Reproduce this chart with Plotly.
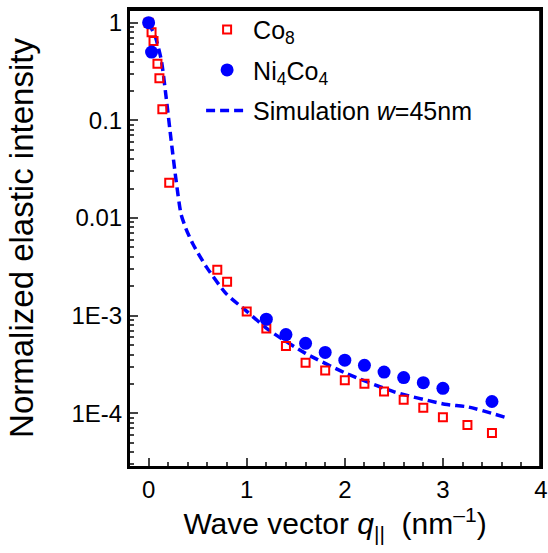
import plotly.graph_objects as go

# Co8 data (red open squares)
co8_q = [0.0, 0.03, 0.05, 0.09, 0.11, 0.14, 0.21, 0.7, 0.8, 1.0, 1.2, 1.4, 1.6, 1.8, 2.0,
         2.2, 2.4, 2.6, 2.8, 3.0, 3.25, 3.5]
co8_i = [1.0, 0.80, 0.65, 0.38, 0.27, 0.13, 0.023, 2.95e-3, 2.22e-3, 1.10e-3, 7.4e-4, 4.9e-4,
         3.3e-4, 2.75e-4, 2.18e-4, 2.01e-4, 1.67e-4, 1.38e-4, 1.14e-4, 9.1e-5, 7.6e-5, 6.3e-5]

# Ni4Co4 data (blue filled circles)
ni_q = [0.0, 0.03, 1.2, 1.4, 1.6, 1.8, 2.0, 2.2, 2.4, 2.6, 2.8, 3.0, 3.5]
ni_i = [1.0, 0.50, 9.2e-4, 6.4e-4, 5.2e-4, 4.2e-4, 3.5e-4, 3.1e-4, 2.64e-4, 2.32e-4,
        2.06e-4, 1.80e-4, 1.32e-4]

# Simulation w=45nm (dashed)
sim_q = [0.0, 0.07, 0.13, 0.18, 0.23, 0.28, 0.33, 0.38, 0.45, 0.59, 0.79, 0.99, 1.23,
         1.60, 2.01, 2.51, 3.02, 3.26, 3.65]
sim_i = [1.0, 0.71, 0.41, 0.167, 0.062, 0.0242, 0.011, 0.0078, 0.00545, 0.00314, 0.00168,
         0.00113, 7.06e-4, 4.11e-4, 2.57e-4, 1.65e-4, 1.24e-4, 1.16e-4, 9.0e-5]

y_tickvals = [1, 0.1, 0.01, 1e-3, 1e-4]
y_ticktext = ["1", "0.1", "0.01", "1E-3", "1E-4"]
x_tickvals = [0, 1, 2, 3, 4]

y_minor = [m * 10.0 ** e for e in range(-5, 0) for m in range(2, 10)]
x_minor = [round(-0.2 + 0.2 * k, 1) for k in range(22)]

font = "Liberation Sans, Arial, sans-serif"
x_range = [-0.2, 4.0]
y_range = [-4.55, 0.14]

fig = go.Figure()
fig.add_trace(go.Scatter(
    x=sim_q, y=sim_i, mode="lines", name="Simulation <i>w</i>=45nm",
    legendgroup="c", legendrank=3,
    line=dict(color="#0000ff", width=3.5, dash="9px,5px", shape="spline", smoothing=0.6),
))
fig.add_trace(go.Scatter(
    x=co8_q, y=co8_i, mode="markers", name="Co<sub>8</sub>",
    legendgroup="a", legendrank=1,
    marker=dict(symbol="square-open", size=8, color="#ff0000", line=dict(width=2, color="#ff0000")),
))
fig.add_trace(go.Scatter(
    x=ni_q, y=ni_i, mode="markers", name="Ni<sub>4</sub>Co<sub>4</sub>",
    legendgroup="b", legendrank=2,
    marker=dict(symbol="circle", size=13, color="#0000ff"),
))
# empty helper traces so the overlay axes (minor ticks, top/right frame) are drawn
fig.add_trace(go.Scatter(x=[], y=[], xaxis="x2", yaxis="y2", showlegend=False, hoverinfo="skip"))
fig.add_trace(go.Scatter(x=[], y=[], xaxis="x3", yaxis="y3", showlegend=False, hoverinfo="skip"))

fig.update_layout(
    width=548, height=553,
    margin=dict(l=129, r=7, t=9, b=86),
    paper_bgcolor="white", plot_bgcolor="white",
    font=dict(family=font, size=20, color="black"),
    showlegend=True,
    legend=dict(
        x=0.175, y=1.005, xanchor="left", yanchor="top",
        bgcolor="rgba(0,0,0,0)", borderwidth=0,
        font=dict(size=25, family=font),
        traceorder="grouped", tracegroupgap=5, itemwidth=42,
    ),
    xaxis=dict(
        range=x_range, tickvals=x_tickvals, ticks="inside", ticklen=9, tickwidth=2,
        showline=True, linewidth=2, linecolor="black", mirror=True,
        showgrid=False, zeroline=False, automargin=False, ticklabeloverflow="allow",
        tickfont=dict(size=24),
        title=dict(text="Wave vector <i>q</i><sub>||</sub>  (nm<sup>–1</sup>)", font=dict(size=30), standoff=4),
    ),
    yaxis=dict(
        type="log", range=y_range,
        tickvals=y_tickvals, ticktext=y_ticktext,
        ticks="inside", ticklen=9, tickwidth=2,
        showline=True, linewidth=2, linecolor="black", mirror=True,
        showgrid=False, zeroline=False, automargin=False, ticklabeloverflow="allow",
        tickfont=dict(size=24),
        title=dict(text="Normalized elastic intensity", font=dict(size=33), standoff=28),
    ),
    xaxis2=dict(
        overlaying="x", anchor="y", side="bottom", range=x_range,
        tickvals=x_minor, ticks="inside", ticklen=5, tickwidth=1.5,
        showticklabels=False, showgrid=False, zeroline=False, showline=False, automargin=False,
    ),
    yaxis2=dict(
        overlaying="y", anchor="x", side="left", type="log", range=y_range,
        tickvals=y_minor, ticks="inside", ticklen=5, tickwidth=1.5,
        showticklabels=False, showgrid=False, zeroline=False, showline=False, automargin=False,
    ),
    xaxis3=dict(
        overlaying="x", anchor="y", side="top", range=x_range, ticks="",
        showticklabels=False, showgrid=False, zeroline=False,
        showline=True, linewidth=2, linecolor="black", automargin=False,
    ),
    yaxis3=dict(
        overlaying="y", anchor="x", side="right", type="log", range=y_range, ticks="",
        showticklabels=False, showgrid=False, zeroline=False,
        showline=True, linewidth=2, linecolor="black", automargin=False,
    ),
    shapes=[dict(type="rect", xref="paper", yref="paper", x0=0, x1=0.998, y0=0, y1=0.998,
                 line=dict(color="black", width=2), layer="above")],
)

fig.write_html("out.html", config={"displayModeBar": False},
               post_script="document.body.style.margin='0px';")
